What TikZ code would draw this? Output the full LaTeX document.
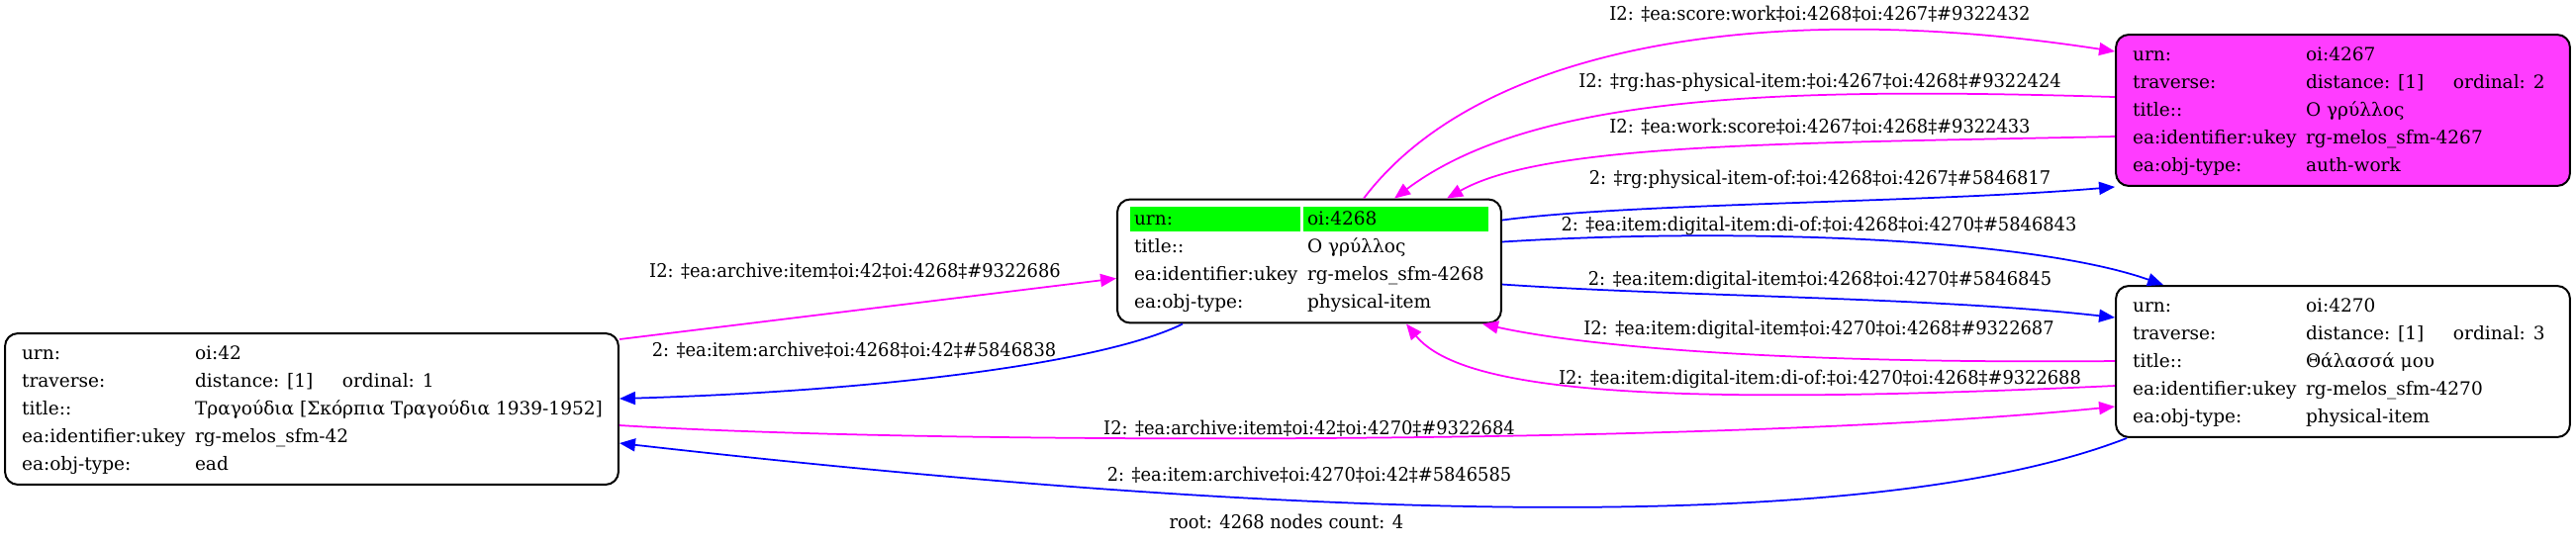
\documentclass[tikz,border=0pt]{standalone}
\usepackage{fontspec}
\usepackage{array}
\setmainfont{DejaVu Serif}
\newfontfamily\edgefont{DejaVu Serif}[FakeStretch=0.94]
\usetikzlibrary{arrows.meta,calc,backgrounds}

\definecolor{edgeblue}{RGB}{0,0,255}
\definecolor{edgemagenta}{RGB}{255,0,255}
\definecolor{workfill}{RGB}{255,60,255}
\definecolor{urngreen}{RGB}{0,255,0}

% one record row with distance and ordinal
\newcommand{\rowtraverse}[1]{traverse: & \makebox[2.98cm][l]{distance: [1]}ordinal: #1\\}

\tikzset{
  recnode/.style={draw, line width=0.04cm, rounded corners=0.26cm,
    inner xsep=0.34cm, inner ysep=0.13cm,
    font=\fontsize{10.55}{15.93}\selectfont},
  edgelbl/.style={anchor=base, inner sep=0pt, font=\edgefont\fontsize{10.8}{12}\selectfont},
  bluearc/.style={color=edgeblue, line width=0.035cm,
    -{Triangle[length=0.32cm,width=0.26cm]}},
  magarc/.style={bluearc, color=edgemagenta}
}

\begin{document}
\begin{tikzpicture}[x=0.02cm,y=-0.02cm]
% Page
\useasboundingbox (0,0) rectangle (2603,551);
\begin{scope}[on background layer]
  \fill[white] (0,0) rectangle (2603,551);
\end{scope}

% Drawing record nodes
\node[recnode] (n42) at (315,413.5) {\begin{tabular}{@{}w{l}{3.5cm}@{}w{l}{8.22cm}@{}}
urn: & oi:42\\
\rowtraverse{1}
title:: & Τραγούδια [Σκόρπια Τραγούδια 1939-1952]\\
ea:identifier:ukey & rg-melos\_sfm-42\\
ea:obj-type: & ead
\end{tabular}};

\node[recnode] (n4268) at (1323,264) {\begin{tabular}{@{}w{l}{3.5cm}@{}w{l}{3.58cm}@{}}
urn: & oi:4268\\
title:: & Ο γρύλλος\\
ea:identifier:ukey & rg-melos\_sfm-4268\\
ea:obj-type: & physical-item
\end{tabular}};

\node[recnode, fill=workfill] (n4267) at (2367.5,111.5) {\begin{tabular}{@{}w{l}{3.5cm}@{}w{l}{5cm}@{}}
urn: & oi:4267\\
\rowtraverse{2}
title:: & Ο γρύλλος\\
ea:identifier:ukey & rg-melos\_sfm-4267\\
ea:obj-type: & auth-work
\end{tabular}};

\node[recnode] (n4270) at (2367.5,365.5) {\begin{tabular}{@{}w{l}{3.5cm}@{}w{l}{5cm}@{}}
urn: & oi:4270\\
\rowtraverse{3}
title:: & Θάλασσά μου\\
ea:identifier:ukey & rg-melos\_sfm-4270\\
ea:obj-type: & physical-item
\end{tabular}};

% root row highlight
\begin{scope}[on background layer]
  \fill[urngreen] ($(n4268.north west)+(14,8)$) rectangle ($(n4268.north west)+(186,33)$);
  \fill[urngreen] ($(n4268.north west)+(189,8)$) rectangle ($(n4268.north west)+(376,33)$);
\end{scope}

% Drawing edges oi:42 <-> oi:4268
\draw[magarc] ($(n42.north east)+(0,7)$) -- ($(n4268.south west)+(0,-46)$);
\node[edgelbl] (l1) at (864,280) {I2: ‡ea:archive:item‡oi:42‡oi:4268‡\#9322686};
\draw[bluearc] ($(n4268.south west)+(67,0)$) .. controls (1120,365) and (900,395) .. ($(n42.north east)+(0,67)$);
\node[edgelbl] (l2) at (863,360) {2: ‡ea:item:archive‡oi:4268‡oi:42‡\#5846838};

% Drawing edges oi:42 <-> oi:4270
\draw[magarc] ($(n42.north east)+(0,94)$) .. controls (950,450) and (1750,450) .. ($(n4270.north west)+(0,123)$);
\node[edgelbl] (l3) at (1323,439) {I2: ‡ea:archive:item‡oi:42‡oi:4270‡\#9322684};
\draw[bluearc] ($(n4270.south west)+(12,0)$) .. controls (1900,540) and (1350,530) .. ($(n42.north east)+(0,112)$);
\node[edgelbl] (l4) at (1323,486) {2: ‡ea:item:archive‡oi:4270‡oi:42‡\#5846585};

% Drawing edges oi:4268 <-> oi:4267
\draw[magarc] ($(n4268.north west)+(250,0)$) .. controls (1500,40) and (1800,0) .. ($(n4267.north west)+(0,18)$);
\node[edgelbl] (l5) at (1839,20) {I2: ‡ea:score:work‡oi:4268‡oi:4267‡\#9322432};
\draw[magarc] ($(n4267.north west)+(0,64)$) .. controls (1800,88) and (1550,95) .. ($(n4268.north west)+(281,0)$);
\node[edgelbl] (l6) at (1839,88) {I2: ‡rg:has-physical-item:‡oi:4267‡oi:4268‡\#9322424};
\draw[magarc] ($(n4267.north west)+(0,104)$) .. controls (1800,145) and (1560,145) .. ($(n4268.north west)+(334,0)$);
\node[edgelbl] (l7) at (1839,134) {I2: ‡ea:work:score‡oi:4267‡oi:4268‡\#9322433};
\draw[bluearc] ($(n4268.north east)+(0,22)$) .. controls (1650,205) and (1950,205) .. (n4267.south west);
\node[edgelbl] (l8) at (1839,186) {2: ‡rg:physical-item-of:‡oi:4268‡oi:4267‡\#5846817};

% Drawing edges oi:4268 <-> oi:4270
\draw[bluearc] ($(n4268.north east)+(0,44)$) .. controls (1750,230) and (2050,240) .. ($(n4270.north west)+(49,0)$);
\node[edgelbl] (l9) at (1838,233) {2: ‡ea:item:digital-item:di-of:‡oi:4268‡oi:4270‡\#5846843};
\draw[bluearc] ($(n4268.north east)+(0,87)$) .. controls (1700,300) and (1950,300) .. ($(n4270.north west)+(0,33)$);
\node[edgelbl] (l10) at (1839,288) {2: ‡ea:item:digital-item‡oi:4268‡oi:4270‡\#5846845};
\draw[magarc] ($(n4270.north west)+(0,77)$) .. controls (1800,368) and (1600,350) .. ($(n4268.south east)+(-20,0)$);
\node[edgelbl] (l11) at (1838,338) {I2: ‡ea:item:digital-item‡oi:4270‡oi:4268‡\#9322687};
\draw[magarc] ($(n4270.north west)+(0,102)$) .. controls (1700,410) and (1480,400) .. ($(n4268.south west)+(293,0)$);
\node[edgelbl] (l12) at (1839,388) {I2: ‡ea:item:digital-item:di-of:‡oi:4270‡oi:4268‡\#9322688};

% Graph caption
\node[edgelbl] (rootinfo) at (1300,534) {root: 4268 nodes count: 4};
\end{tikzpicture}
\end{document}
